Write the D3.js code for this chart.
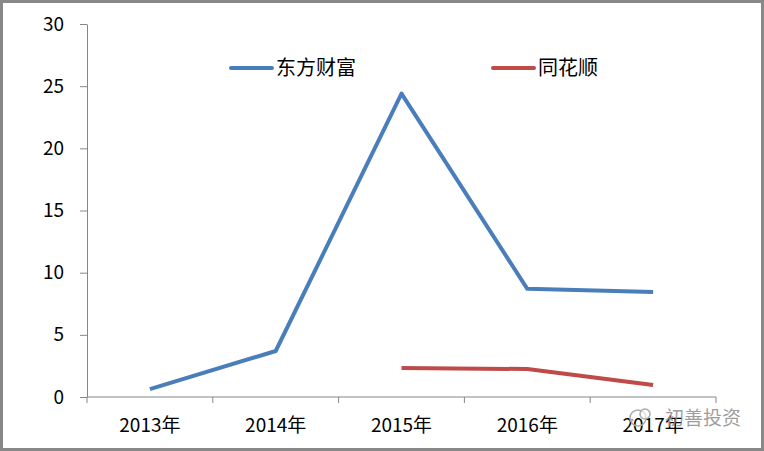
<!DOCTYPE html>
<html lang="zh">
<head>
<meta charset="UTF-8">
<title>东方财富 vs 同花顺</title>
<script src="https://d3js.org/d3.v7.min.js"></script>
<style>
  body { margin: 0; background: #fff; }
  svg text { font-family: "Noto Sans CJK SC", "DejaVu Sans", sans-serif; }
  .tick-label { font-size: 19px; fill: #000; }
  .legend-label { font-size: 20px; fill: #000; }
  .watermark { font-size: 19px; fill: #8c8c8c; fill-opacity: 0.85; }
</style>
</head>
<body>
<div id="chart"></div>
<script>
// categories and series
const years = ["2013年", "2014年", "2015年", "2016年", "2017年"];
const eastmoney = [0.64, 3.7, 24.4, 8.7, 8.45];
const tonghuashun = [null, null, 2.33, 2.25, 0.97];
const yTicks = [0, 5, 10, 15, 20, 25, 30];
const seriesNames = ["东方财富", "同花顺"];
const seriesColors = ["#4a7ebb", "#be4b48"];

const width = 764, height = 451;

const svg = d3.select("#chart").append("svg")
  .attr("width", width)
  .attr("height", height);

// outer border
svg.append("rect")
  .attr("x", 1.5).attr("y", 1.5)
  .attr("width", width - 3).attr("height", height - 3)
  .attr("fill", "#fff")
  .attr("stroke", "#888").attr("stroke-width", 3);

const x = d3.scaleBand().domain(years).range([87, 716]);
const y = d3.scaleLinear().domain([0, 30]).range([397, 24]);

// y axis
const yAxis = svg.append("g").attr("transform", "translate(87,0)")
  .call(d3.axisLeft(y).tickValues(yTicks).tickSize(7).tickSizeOuter(0).tickPadding(16));
yAxis.select(".domain").attr("stroke", "#868686");
yAxis.selectAll(".tick line").attr("stroke", "#868686");
yAxis.selectAll(".tick text").attr("class", "tick-label").attr("font-size", null).attr("font-family", null);

// x axis with ticks at category boundaries
const xAxis = svg.append("g").attr("transform", "translate(0,397)");
xAxis.append("line")
  .attr("x1", 87).attr("x2", 716)
  .attr("stroke", "#868686");
const bounds = years.map(d => x(d)).concat([x.range()[1]]);
xAxis.selectAll(".xtick").data(bounds).enter().append("line")
  .attr("x1", d => d).attr("x2", d => d)
  .attr("y1", 0).attr("y2", 6)
  .attr("stroke", "#868686");
xAxis.selectAll(".xlabel").data(years).enter().append("text")
  .attr("class", "tick-label")
  .attr("x", d => x(d) + x.bandwidth() / 2)
  .attr("y", 35)
  .attr("text-anchor", "middle")
  .text(d => d);

// lines
const line = d3.line()
  .defined(d => d.v !== null)
  .x(d => x(d.k) + x.bandwidth() / 2)
  .y(d => y(d.v));

[eastmoney, tonghuashun].forEach((vals, i) => {
  svg.append("path")
    .datum(years.map((k, j) => ({ k, v: vals[j] })))
    .attr("fill", "none")
    .attr("stroke", seriesColors[i])
    .attr("stroke-width", 4)
    .attr("stroke-linejoin", "round")
    .attr("d", line);
});

// legend
const legendX = [231, 493];
seriesNames.forEach((name, i) => {
  const g = svg.append("g").attr("transform", `translate(${legendX[i]},68)`);
  g.append("line")
    .attr("x1", 0).attr("x2", 41)
    .attr("stroke", seriesColors[i]).attr("stroke-width", 4)
    .attr("stroke-linecap", "round");
  g.append("text")
    .attr("class", "legend-label")
    .attr("x", 45).attr("y", 7)
    .text(name);
});

// watermark
const wm = svg.append("g").attr("transform", "translate(628,418)");
wm.append("circle").attr("cx", 10).attr("cy", 0).attr("r", 8)
  .attr("fill", "none").attr("stroke", "#aaa").attr("stroke-width", 1.5);
wm.append("circle").attr("cx", 4).attr("cy", 2).attr("r", 1.5).attr("fill", "#aaa");
wm.append("circle").attr("cx", 17).attr("cy", -4).attr("r", 5)
  .attr("fill", "#fff").attr("fill-opacity", 0.6).attr("stroke", "#aaa").attr("stroke-width", 1.5);
wm.append("text").attr("class", "watermark")
  .attr("x", 37).attr("y", 7)
  .text("初善投资");
</script>
</body>
</html>
